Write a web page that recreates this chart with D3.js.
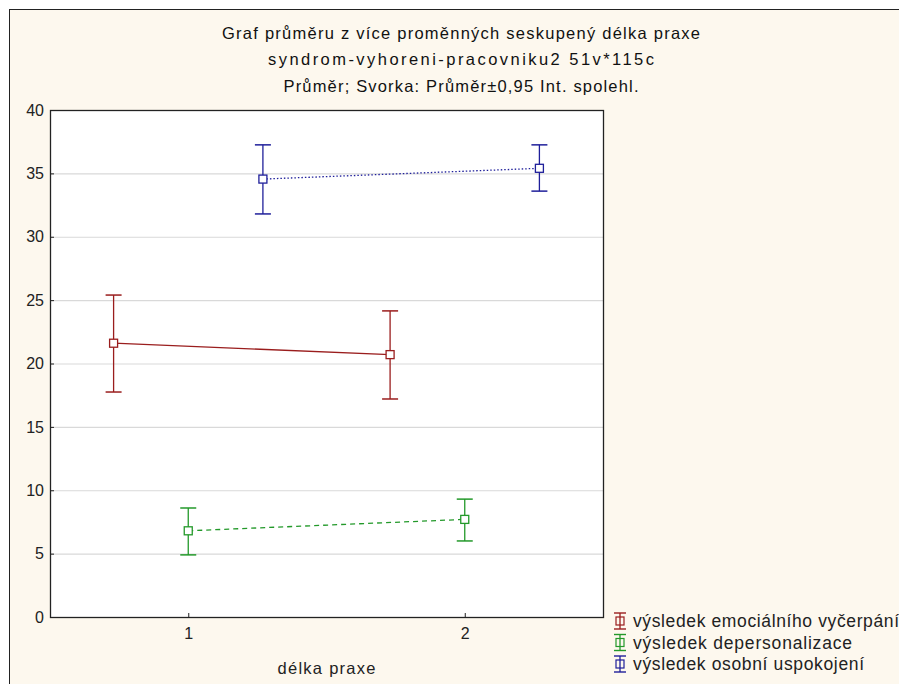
<!DOCTYPE html>
<html><head><meta charset="utf-8">
<script src="https://cdn.jsdelivr.net/npm/d3@7"></script>
<style>body{margin:0;background:#fff;} svg{display:block;font-family:"Liberation Sans",Arial,sans-serif;}</style>
</head><body>
<script>
const categories = [1, 2];
const seriesNames = ["výsledek emociálního vyčerpání", "výsledek depersonalizace", "výsledek osobní uspokojení"];
const seriesColors = ["#9a1d1d", "#23992a", "#1f1f9a"];
const seriesDash = [null, "5,4", "1.5,2"];
const seriesOffset = [-0.27, 0, 0.27];
const means = [[21.6, 20.7], [6.8, 7.7], [34.55, 35.4]];
const lower = [[17.75, 17.2], [4.9, 6.0], [31.8, 33.6]];
const upper = [[25.4, 24.15], [8.6, 9.3], [37.25, 37.25]];
const yTicks = [0, 5, 10, 15, 20, 25, 30, 35, 40];
const titleLines = ["Graf průměru z více proměnných seskupený délka praxe", "syndrom-vyhoreni-pracovniku2 51v*115c", "Průměr; Svorka: Průměr±0,95 Int. spolehl."];
const xLabel = "délka praxe";

const W = 899, H = 684;
const svg = d3.select("body").append("svg").attr("width", W).attr("height", H);
svg.append("rect").attr("x", 9.5).attr("y", 9.5).attr("width", W + 20).attr("height", H + 20)
  .attr("fill", "#fdf8ee").attr("stroke", "#222").attr("stroke-width", 1);

const L = 50, T = 110, R = 603, B = 617;
const x = d3.scaleLinear().domain([0.5, 2.5]).range([L, R]);
const y = d3.scaleLinear().domain([0, 40]).range([B, T]);

svg.append("rect").attr("x", L).attr("y", T).attr("width", R - L).attr("height", B - T).attr("fill", "#fff");

// grid
svg.append("g").selectAll("line").data(yTicks.filter(d => d > 0 && d < 40)).join("line")
  .attr("x1", L).attr("x2", R).attr("y1", d => y(d) + 0.5).attr("y2", d => y(d) + 0.5)
  .attr("stroke", "#d9d9d9").attr("stroke-width", 1.2);

// axes
const ya = svg.append("g").attr("transform", `translate(${L},0)`)
  .call(d3.axisLeft(y).tickValues(yTicks).tickSize(-4).tickPadding(6));
ya.select(".domain").remove();
ya.selectAll("line").attr("stroke", "#222");
ya.selectAll("text").attr("font-size", 16).attr("fill", "#222").attr("font-family", "Liberation Sans, Arial, sans-serif");

const xa = svg.append("g").attr("transform", `translate(0,${B})`)
  .call(d3.axisBottom(x).tickValues(categories).tickFormat(d3.format("d")).tickSize(-4).tickPadding(11));
xa.select(".domain").remove();
xa.selectAll("line").attr("stroke", "#222");
xa.selectAll("text").attr("font-size", 16).attr("fill", "#222").attr("font-family", "Liberation Sans, Arial, sans-serif");

svg.append("rect").attr("x", L + 0.5).attr("y", T + 0.5).attr("width", R - L).attr("height", B - T)
  .attr("fill", "none").attr("stroke", "#222").attr("stroke-width", 1.3);

// series
seriesNames.forEach((name, s) => {
  const g = svg.append("g");
  const pts = categories.map((c, i) => ({x: x(c + seriesOffset[s]), m: y(means[s][i]), lo: y(lower[s][i]), hi: y(upper[s][i])}));
  g.append("path").attr("d", d3.line().x(d => d.x).y(d => d.m)(pts))
    .attr("fill", "none").attr("stroke", seriesColors[s]).attr("stroke-width", 1.3)
    .attr("stroke-dasharray", seriesDash[s]);
  pts.forEach(p => {
    g.append("line").attr("x1", p.x).attr("x2", p.x).attr("y1", p.hi).attr("y2", p.lo).attr("stroke", seriesColors[s]).attr("stroke-width", 1.3);
    [p.hi, p.lo].forEach(v => g.append("line").attr("x1", p.x - 8).attr("x2", p.x + 8).attr("y1", v).attr("y2", v).attr("stroke", seriesColors[s]).attr("stroke-width", 1.5));
    g.append("rect").attr("x", p.x - 4).attr("y", p.m - 4).attr("width", 8).attr("height", 8)
      .attr("fill", "#fff").attr("stroke", seriesColors[s]).attr("stroke-width", 1.3);
  });
});

// title
const titleWidths = [478, 386, 355];
svg.append("g").selectAll("text").data(titleLines).join("text")
  .attr("x", 461).attr("y", (d, i) => 38.5 + i * 26.5).attr("text-anchor", "middle")
  .attr("font-size", 16.5).attr("fill", "#111")
  .attr("textLength", (d, i) => titleWidths[i]).attr("lengthAdjust", "spacing").text(d => d);

svg.append("text").attr("x", (L + R) / 2).attr("y", 674).attr("text-anchor", "middle")
  .attr("font-size", 16.5).attr("fill", "#222").attr("textLength", 98).attr("lengthAdjust", "spacing").text(xLabel);

// legend
const legendWidths = [266, 219, 231];
const lg = svg.append("g");
seriesNames.forEach((name, s) => {
  const cy = 621 + s * 21.5, cx = 620;
  const c = seriesColors[s];
  lg.append("line").attr("x1", cx).attr("x2", cx).attr("y1", cy - 8).attr("y2", cy + 8).attr("stroke", c).attr("stroke-width", 1.3);
  [cy - 8, cy + 8].forEach(v => lg.append("line").attr("x1", cx - 6).attr("x2", cx + 6).attr("y1", v).attr("y2", v).attr("stroke", c).attr("stroke-width", 1.4));
  lg.append("rect").attr("x", cx - 4).attr("y", cy - 4).attr("width", 8).attr("height", 8).attr("fill", "none").attr("stroke", c).attr("stroke-width", 1.2);
  lg.append("text").attr("x", 633).attr("y", cy + 6).attr("font-size", 17.5).attr("fill", "#222")
    .attr("textLength", legendWidths[s]).attr("lengthAdjust", "spacing").text(name);
});
</script>
</body></html>
